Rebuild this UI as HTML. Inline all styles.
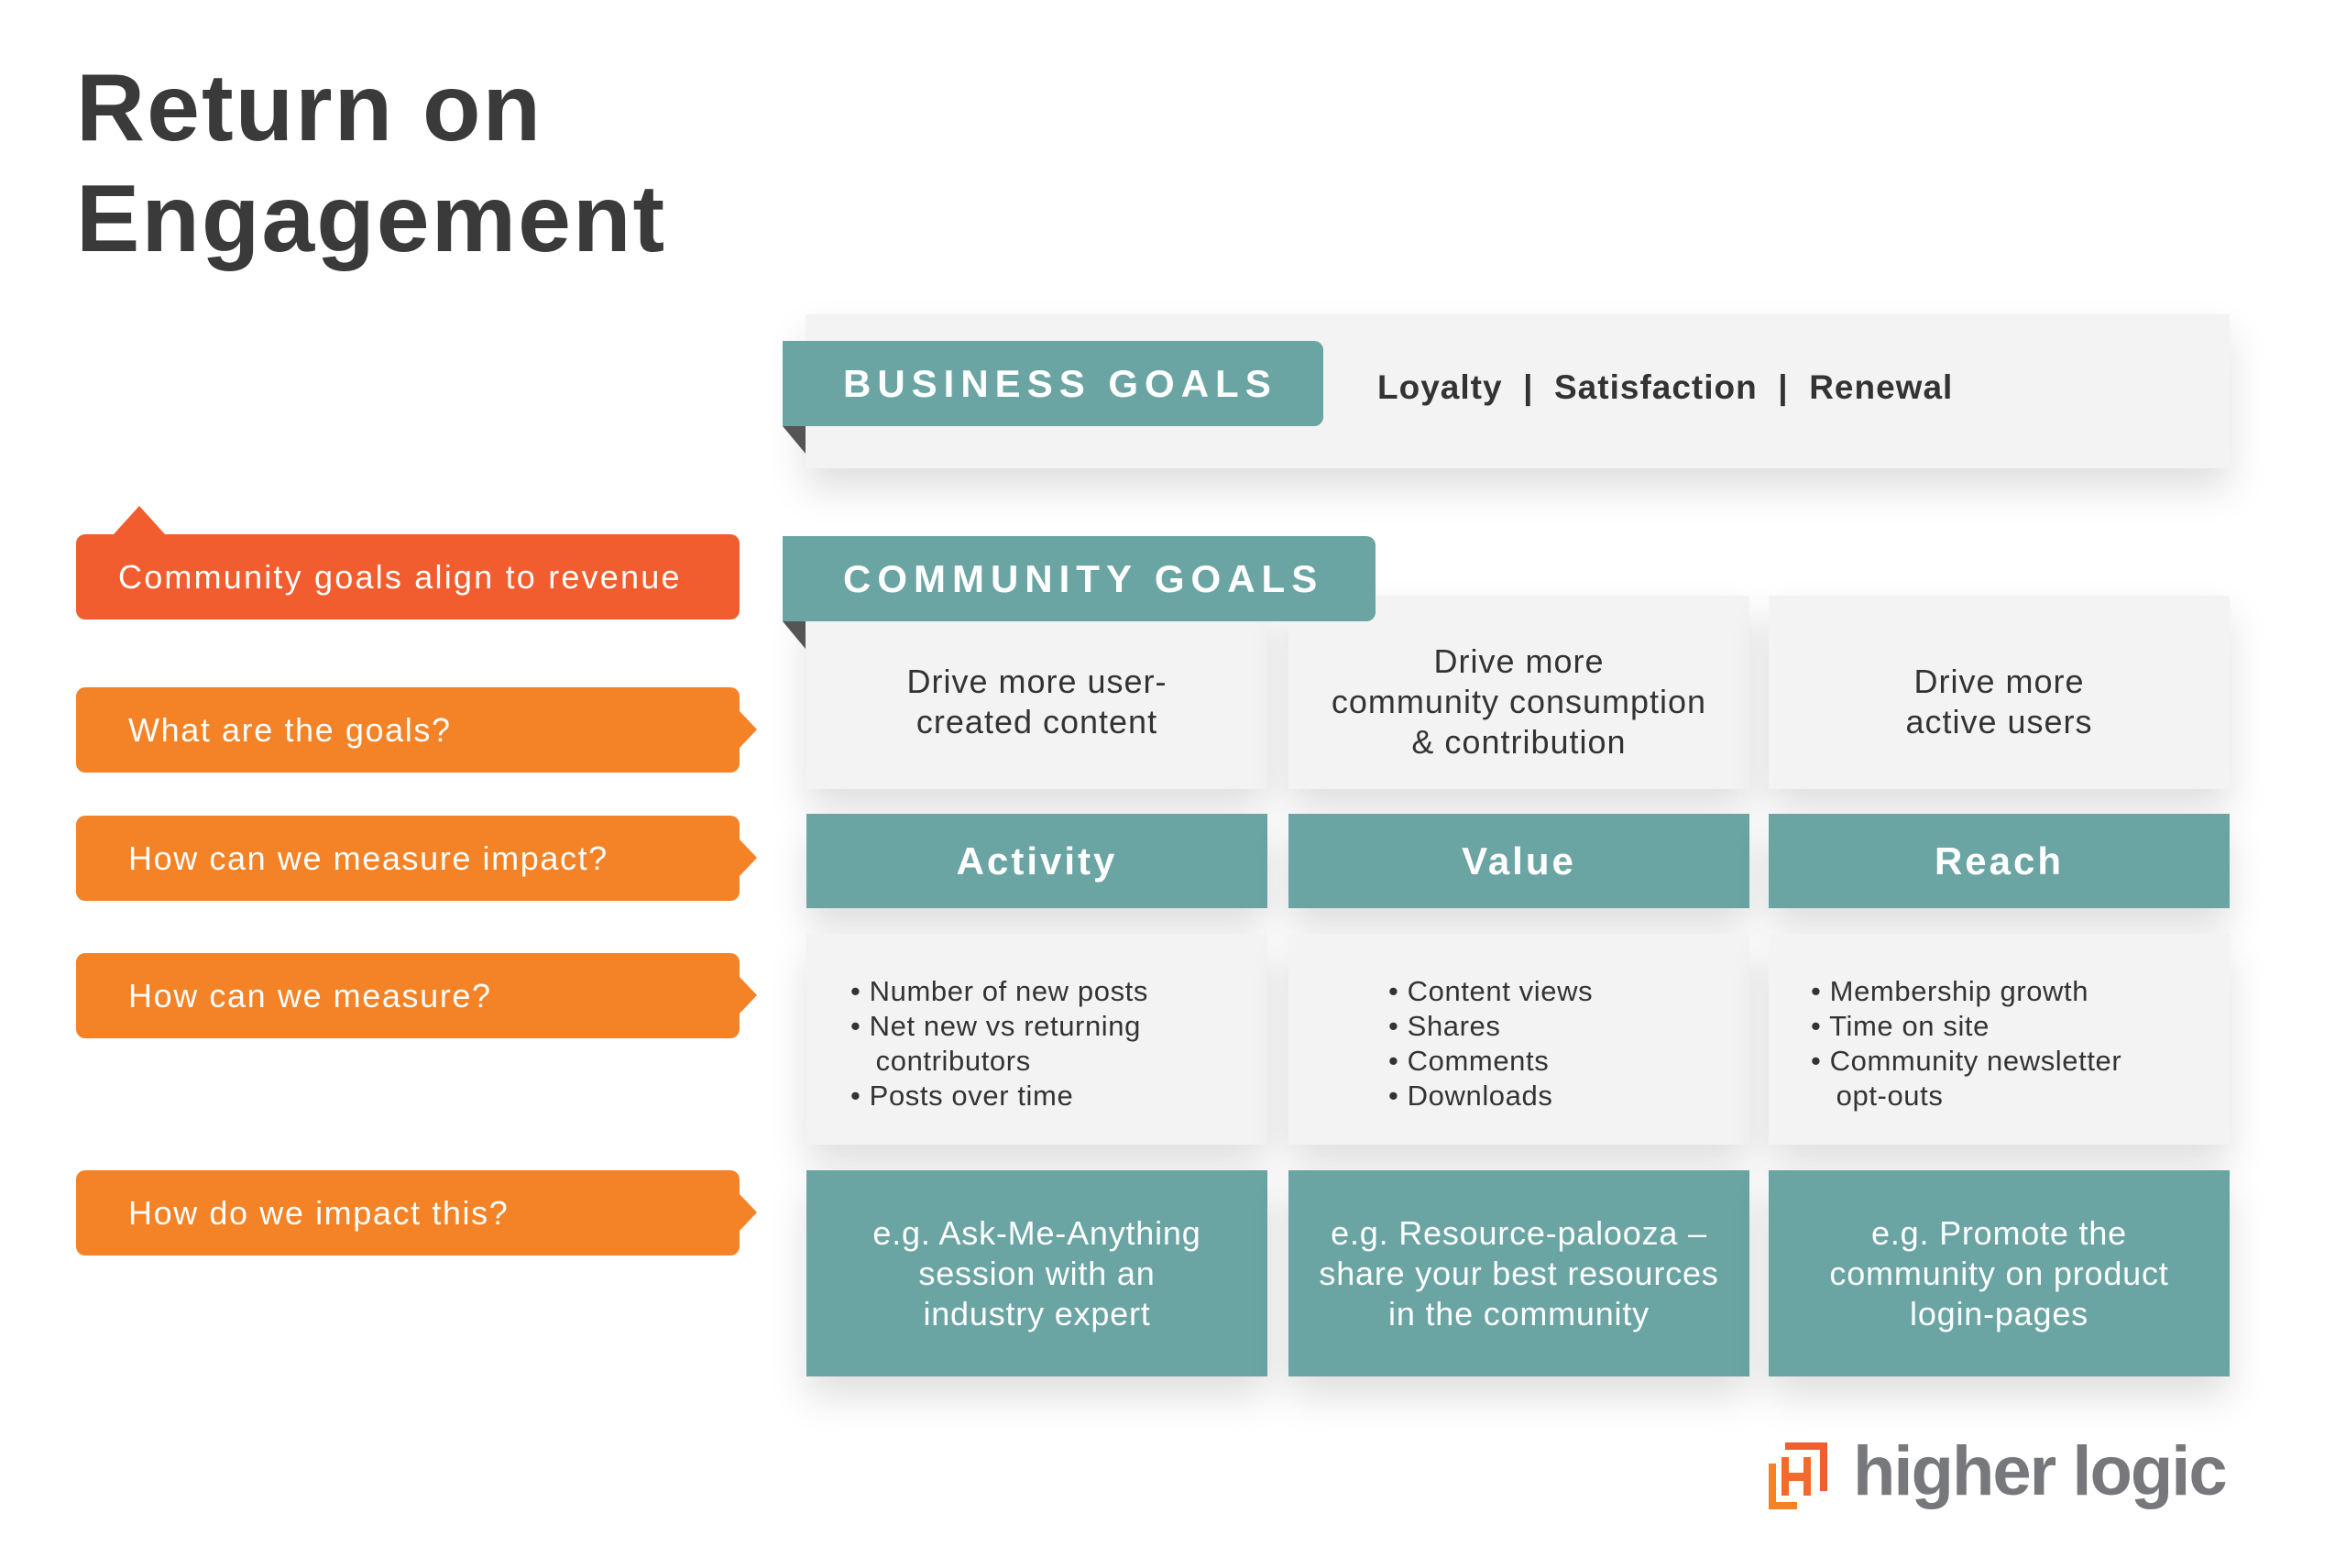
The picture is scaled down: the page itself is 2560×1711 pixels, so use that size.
<!DOCTYPE html>
<html><head><meta charset="utf-8"><style>
*{margin:0;padding:0;box-sizing:border-box}
body{width:2560px;height:1711px;background:#fff;position:relative;overflow:hidden;font-family:"Liberation Sans",sans-serif;color:#3b3b3b}
.a{position:absolute}
.title{left:83px;top:58px;font-size:104px;font-weight:bold;line-height:121px;color:#3a3a3a;letter-spacing:2px}
.panel{background:#f3f3f3;box-shadow:0 22px 40px rgba(0,0,0,0.13)}
.tab{background:#6aa5a3;color:#fff;font-weight:bold;font-size:42px;letter-spacing:7px;display:flex;align-items:center;padding-left:66px;border-radius:0 10px 10px 0}
.fold{width:0;height:0;border-top:30px solid #555;border-left:25px solid transparent}
.cell{display:flex;align-items:center;justify-content:center;text-align:center}
.goal{font-size:36px;line-height:44px;color:#333;letter-spacing:1px}
.teal{background:#6aa5a3;color:#fff;box-shadow:0 22px 40px rgba(0,0,0,0.13)}
.hd{font-size:42px;font-weight:bold;letter-spacing:3px}
.ex{font-size:36px;line-height:44px;letter-spacing:0.8px}
.met{font-size:31px;line-height:38px;color:#333;text-align:left;justify-content:flex-start;letter-spacing:0.6px}
.lab{left:83px;width:724px;height:93px;color:#fff;font-size:36px;letter-spacing:1.6px;display:flex;align-items:center;border-radius:10px}
.or{background:#f48226;padding-left:57px}
.or:after{content:"";position:absolute;right:-19px;top:26px;border-left:19px solid #f48226;border-top:20px solid transparent;border-bottom:20px solid transparent}
</style></head><body>
<div class="a title">Return on<br>Engagement</div>

<div class="a panel" style="left:879px;top:343px;width:1554px;height:168px"></div>
<div class="a tab" style="left:854px;top:372px;width:590px;height:93px">BUSINESS GOALS</div>
<div class="a fold" style="left:854px;top:465px"></div>
<div class="a" style="left:1503px;top:402px;font-size:37px;letter-spacing:1px;font-weight:bold;color:#333;white-space:pre">Loyalty  |  Satisfaction  |  Renewal</div>

<div class="a panel cell goal" style="left:880px;top:650px;width:503px;height:211px;padding-top:20px">Drive more user-<br>created content</div>
<div class="a panel cell goal" style="left:1406px;top:650px;width:503px;height:211px;padding-top:20px">Drive more<br>community consumption<br>&amp; contribution</div>
<div class="a panel cell goal" style="left:1930px;top:650px;width:503px;height:211px;padding-top:20px">Drive more<br>active users</div>
<div class="a tab" style="left:854px;top:585px;width:647px;height:93px">COMMUNITY GOALS</div>
<div class="a fold" style="left:854px;top:678px"></div>

<div class="a teal cell hd" style="left:880px;top:888px;width:503px;height:103px">Activity</div>
<div class="a teal cell hd" style="left:1406px;top:888px;width:503px;height:103px">Value</div>
<div class="a teal cell hd" style="left:1930px;top:888px;width:503px;height:103px">Reach</div>

<div class="a panel cell met" style="left:880px;top:1019px;width:503px;height:230px;padding-left:48px;padding-top:10px">• Number of new posts<br>• Net new vs returning<br>&nbsp;&nbsp;&nbsp;contributors<br>• Posts over time</div>
<div class="a panel cell met" style="left:1406px;top:1019px;width:503px;height:230px;padding-left:109px;padding-top:10px">• Content views<br>• Shares<br>• Comments<br>• Downloads</div>
<div class="a panel cell met" style="left:1930px;top:1019px;width:503px;height:230px;padding-left:46px;padding-top:10px">• Membership growth<br>• Time on site<br>• Community newsletter<br>&nbsp;&nbsp;&nbsp;opt-outs</div>

<div class="a teal cell ex" style="left:880px;top:1277px;width:503px;height:225px">e.g. Ask-Me-Anything<br>session with an<br>industry expert</div>
<div class="a teal cell ex" style="left:1406px;top:1277px;width:503px;height:225px">e.g. Resource-palooza –<br>share your best resources<br>in the community</div>
<div class="a teal cell ex" style="left:1930px;top:1277px;width:503px;height:225px">e.g. Promote the<br>community on product<br>login-pages</div>

<div class="a" style="left:124px;top:552px;border-bottom:31px solid #f15d2f;border-left:28px solid transparent;border-right:28px solid transparent"></div>
<div class="a lab" style="top:583px;background:#f15d2f;padding-left:46px;letter-spacing:2.2px">Community goals align to revenue</div>
<div class="a lab or" style="top:750px">What are the goals?</div>
<div class="a lab or" style="top:890px">How can we measure impact?</div>
<div class="a lab or" style="top:1040px">How can we measure?</div>
<div class="a lab or" style="top:1277px">How do we impact this?</div>

<svg class="a" style="left:1928px;top:1572px" width="70" height="75" viewBox="0 0 70 75">
<path d="M20 2H66V55H58V10H20Z" fill="#f15d2f"/>
<path d="M2 25H10V67H33V75H2Z" fill="#f48226"/>
<path d="M16 18H24V35H40V18H48V60H40V44H24V60H16Z" fill="#f26a2c"/>
</svg>
<div class="a" style="left:2022px;top:1562px;font-size:76px;font-weight:bold;color:#77787b;letter-spacing:-2px">higher logic</div>
</body></html>
